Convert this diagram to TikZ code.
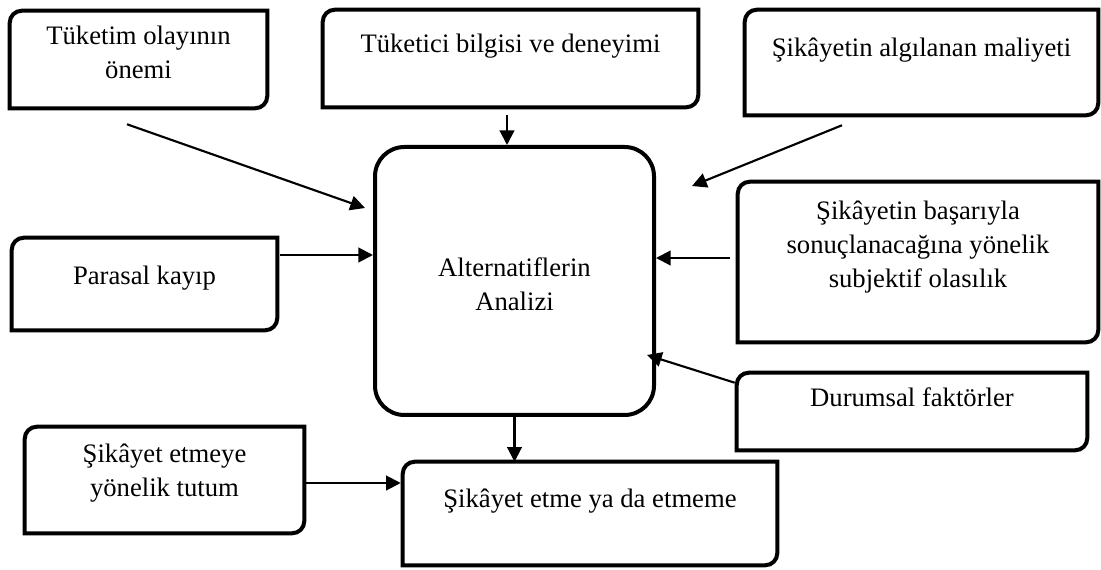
\documentclass[tikz,border=0pt]{standalone}
\usepackage{fontspec}
\setmainfont{Liberation Serif}
\usetikzlibrary{arrows.meta, calc, fit}
\tikzset{
  frame/.style={inner sep=0pt, draw=none},
  boxtext/.style={anchor=north, inner sep=0pt, align=center,
    font=\fontsize{20}{25.5}\selectfont},
  arr/.style={line width=1.6pt, -{Triangle[length=11pt,width=11pt]}},
  boxline/.style={line width=3pt}
}
% box with round top left and bottom right corners
\newcommand\halfbox[1]{%
  \draw[boxline] ($(#1.north west)+(0pt,-9pt)$)
    arc[start angle=180, end angle=90, radius=9pt] -- (#1.north east)
    -- ($(#1.south east)+(0pt,9pt)$)
    arc[start angle=0, end angle=-90, radius=9pt] -- (#1.south west) -- cycle;}
\begin{document}
\begin{tikzpicture}[x=0.75pt, y=-0.75pt]
  \useasboundingbox (0,0) rectangle (1101,570);

  % outer boxes
  \node[frame, fit={(10,11)(267,108)},
    label={[boxtext, yshift=-7.5pt]north:{\strut T\"uketim olay\i n\i n\\\"onemi}}] (tuketim) {};
  \node[frame, fit={(323,10)(698,107)},
    label={[boxtext, yshift=-14pt]north:{\strut T\"uketici bilgisi ve deneyimi}}] (bilgi) {};
  \node[frame, fit={(745,10)(1098,115)},
    label={[boxtext, yshift=-17pt]north:{\strut Şikâyetin algılanan maliyeti}}] (maliyet) {};
  \node[frame, fit={(12,238)(277,330)},
    label={[boxtext, yshift=-17pt]north:{\strut Parasal kayıp}}] (parasal) {};
  \node[frame, fit={(738,182)(1098,342)},
    label={[boxtext, yshift=-10.5pt]north:{\strut Şikâyetin başarıyla\\sonuçlanacağına yönelik\\subjektif olasılık}}] (basari) {};
  \node[frame, fit={(737,373)(1087,450)},
    label={[boxtext, yshift=-7.5pt]north:{\strut Durumsal faktörler}}] (durum) {};
  \node[frame, fit={(25,427)(304,533)},
    label={[boxtext, yshift=-9pt]north:{\strut Şikâyet etmeye\\yönelik tutum}}] (tutum) {};
  \node[frame, fit={(403,462)(777,565)},
    label={[boxtext, yshift=-16.5pt]north:{\strut Şikâyet etme ya da etmeme}}] (sonuc) {};

  \foreach \b in {tuketim, bilgi, maliyet, parasal, basari, durum, tutum, sonuc}
    \halfbox{\b};

  % centre
  \node[frame, fit={(375,147)(654,415)}, draw, boxline, rounded corners=22pt] (analiz) {};
  \node[align=center, font=\fontsize{20}{25.5}\selectfont] (analizT) at ($(analiz.center)+(0,3)$)
    {Alternatiflerin\\Analizi};

  % arrows
  \draw[arr] ($(tuketim.south)+(-11.5,16)$) -- ($(analiz.west)+(-8,-73)$);
  \draw[arr] ($(bilgi.south)+(-3.5,8)$) coordinate (b1) -- (b1 |- analiz.north);
  \draw[arr] ($(maliyet.south)+(-79.5,10)$) -- ($(analiz.north east)+(36,41)$);
  \draw[arr] ($(parasal.east)+(3,-29)$) coordinate (p1) -- (p1 -| analiz.west);
  \draw[arr] ($(basari.west)+(-8,-4)$) coordinate (s1) -- (s1 -| analiz.east);
  \draw[arr] ($(durum.north west)+(-2,10)$) -- ($(analiz.east)+(-9,74)$);
  \draw[arr] (analiz.south) -- (analiz.south |- sonuc.north);
  \draw[arr] ($(tutum.east)+(1,3)$) coordinate (t1) -- ($(t1 -| sonuc.west)+(-2,0)$);
\end{tikzpicture}
\end{document}
